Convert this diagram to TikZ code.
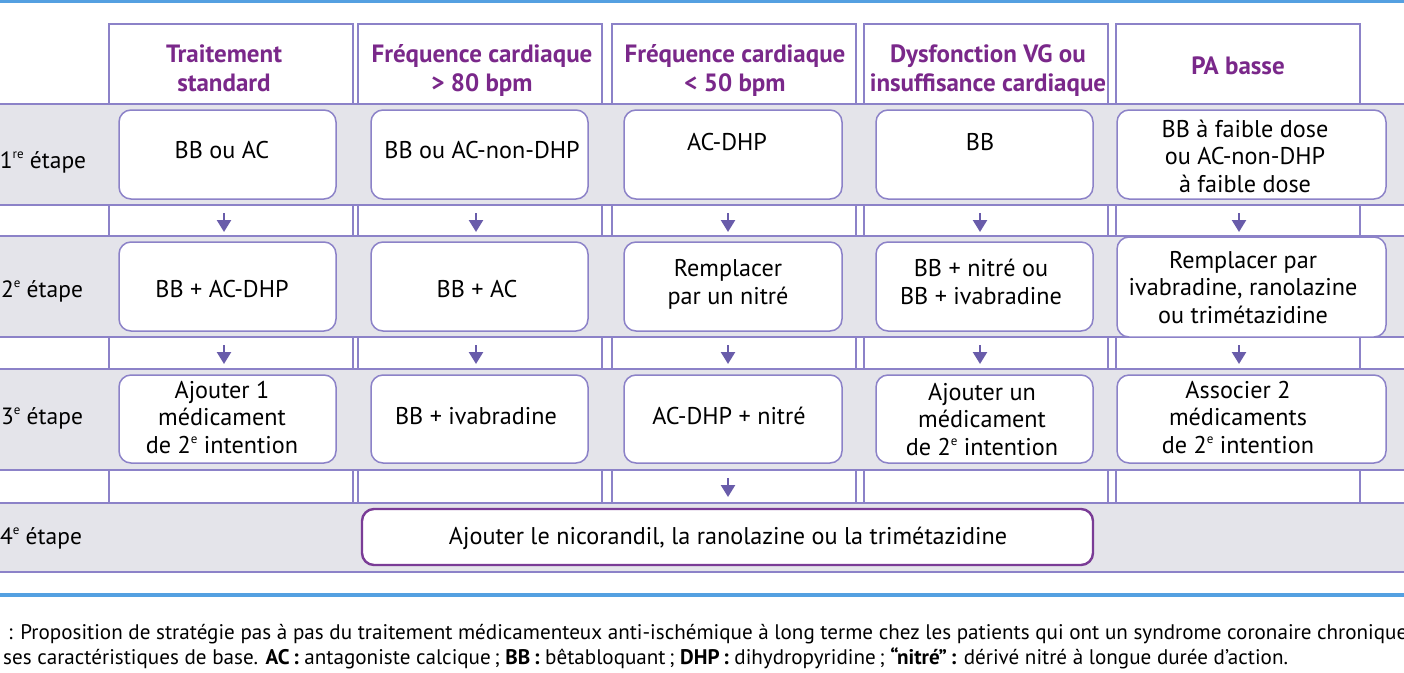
\documentclass[tikz,border=0pt]{standalone}
\usepackage{fontspec}
\setmainfont{PT Sans}
\usetikzlibrary{arrows.meta}
\definecolor{lav}{RGB}{140,130,200}
\definecolor{bandgray}{RGB}{228,228,234}
\definecolor{purp}{RGB}{122,40,138}
\definecolor{darkpurp}{RGB}{122,60,150}
\definecolor{arrowc}{RGB}{105,92,170}
\definecolor{bluel}{RGB}{84,160,225}
\newcommand\mybox[6][]{%
  \node[boxst,#1,minimum width={#5-#3},minimum height={#6-#4}] (#2) at ({(#3+#5)/2},{(#4+#6)/2}) {};}
\newcommand\sups[1]{\raisebox{9.5pt}{\fontsize{13}{13}\selectfont #1}}
\begin{document}
\begin{tikzpicture}[x=1pt,y=-1pt,
  colst/.style={draw=lav,line width=1.3pt,fill=white},
  bandst/.style={fill=bandgray},
  bandline/.style={draw=lav,line width=1.4pt},
  boxst/.style={draw=lav,line width=1.5pt,fill=white,rounded corners=12pt,inner sep=0pt},
  bigbox/.style={draw=darkpurp,line width=2.4pt},
  txt/.style={font=\fontsize{24.2}{27.5}\selectfont,align=center,inner sep=0pt,anchor=base},
  hdr/.style={font=\fontsize{25}{29}\selectfont\bfseries,text=purp,align=center,inner sep=0pt,anchor=base},
  lbl/.style={font=\fontsize{23.5}{27.5}\selectfont,inner sep=0pt,anchor=base},
  capst/.style={font=\fontsize{21.1}{25}\selectfont,inner sep=0pt,anchor=base west},
  arr/.style={draw=arrowc,line width=2.4pt,-{Triangle[width=14pt,length=12pt]}},
  blueline/.style={draw=bluel,line width=3.2pt}]
\useasboundingbox (0,0) rectangle (1404,672);
\clip (0,0) rectangle (1404,672);
\fill[white] (0,0) rectangle (1404,672);
% blue rules
\draw[blueline] (0,1.6) -- (1404,1.6);
\draw[blueline] (0,595) -- (1404,595);
% columns
\foreach \xa in {109,358,612,864,1116}{
  \draw[colst] (\xa,24) rectangle ({\xa+244},503);
}
% bands
\foreach \ya/\yb in {104/205,236/337,369/470,503/572}{
  \fill[bandst] (0,\ya) rectangle (1404,\yb);
  \draw[bandline] (0,\ya) -- (1404,\ya);
  \draw[bandline] (0,\yb) -- (1404,\yb);
}
% headers
\node[hdr] (h1) at (224,91) {Traitement\\standard};
\node[hdr] (h2) at (482,91) {Fréquence cardiaque\\> 80 bpm};
\node[hdr] (h3) at (735,91) {Fréquence cardiaque\\< 50 bpm};
\node[hdr] (h4) at (988,91) {Dysfonction VG ou\\insuffisance cardiaque};
\node[hdr] (h5) at (1238,74) {PA basse};
% row labels
\node[lbl] (l1) at (43,168) {1\sups{re} étape};
\node[lbl] (l2) at (42,297) {2\sups{e} étape};
\node[lbl] (l3) at (42,424) {3\sups{e} étape};
\node[lbl] (l4) at (41,544) {4\sups{e} étape};
% row 1 boxes
\mybox{b11}{119}{110}{336}{199}
\mybox{b12}{371}{110}{588}{199}
\mybox{b13}{624}{110}{842}{199}
\mybox{b14}{876}{110}{1093}{199}
\mybox{b15}{1117}{110}{1386}{199}
\node[txt] (t11) at (222,158) {BB ou AC};
\node[txt] (t12) at (482,158) {BB ou AC-non-DHP};
\node[txt] (t13) at (727,150) {AC-DHP};
\node[txt] (t14) at (980,150) {BB};
\node[txt] (t15) at (1245,192) {BB à faible dose\\ou AC-non-DHP\\à faible dose};
% row 2 boxes
\mybox{b21}{119}{242}{336}{331}
\mybox{b22}{371}{242}{588}{331}
\mybox{b23}{624}{242}{842}{331}
\mybox{b24}{876}{242}{1093}{331}
\mybox{b25}{1117}{237}{1386}{337}
\node[txt] (t21) at (222,297) {BB + AC-DHP};
\node[txt] (t22) at (477,297) {BB + AC};
\node[txt] (t23) at (728,304) {Remplacer\\par un nitré};
\node[txt] (t24) at (981,304) {BB + nitré ou\\BB + ivabradine};
\node[txt] (t25) at (1243,323) {Remplacer par\\ivabradine, ranolazine\\ou trimétazidine};
% row 3 boxes
\mybox{b31}{119}{375}{336}{463}
\mybox{b32}{371}{375}{588}{463}
\mybox{b33}{624}{375}{842}{463}
\mybox{b34}{876}{375}{1093}{463}
\mybox{b35}{1117}{375}{1386}{463}
\node[txt] (t31) at (222,453) {Ajouter 1\\médicament\\de 2\sups{e} intention};
\node[txt] (t32) at (476,424) {BB + ivabradine};
\node[txt] (t33) at (729,424) {AC-DHP + nitré};
\node[txt] (t34) at (982,455) {Ajouter un\\médicament\\de 2\sups{e} intention};
\node[txt] (t35) at (1238,453) {Associer 2\\médicaments\\de 2\sups{e} intention};
% row 4
\mybox[bigbox]{b4}{362}{509}{1093}{565}
\node[txt] (t4) at (728,544) {Ajouter le nicorandil, la ranolazine ou la trimétazidine};
% arrows
\foreach \x/\n in {224/1,476/2,728/3,980/4,1239/5}{
  \coordinate (sa\n) at (\x,213);
  \coordinate (ea\n) at (\x,232);
  \draw[arr] (sa\n) -- (ea\n);
  \coordinate (sb\n) at (\x,345);
  \coordinate (eb\n) at (\x,364);
  \draw[arr] (sb\n) -- (eb\n);
}
\coordinate (sc3) at (728,478);
\coordinate (ec3) at (728,497);
\draw[arr] (sc3) -- (ec3);
% caption
\node[capst] (c1) at (8,639) {: Proposition de stratégie pas à pas du traitement médicamenteux anti-ischémique à long terme chez les patients qui ont un syndrome coronaire chronique};
\node[capst] (c2) at (3,664) {ses caractéristiques de base. \textbf{AC\,:} antagoniste calcique\,; \textbf{BB\,:} bêtabloquant\,; \textbf{DHP\,:} dihydropyridine\,; \textbf{“nitré”\,:} dérivé nitré à longue durée d’action.};
\end{tikzpicture}
\end{document}
